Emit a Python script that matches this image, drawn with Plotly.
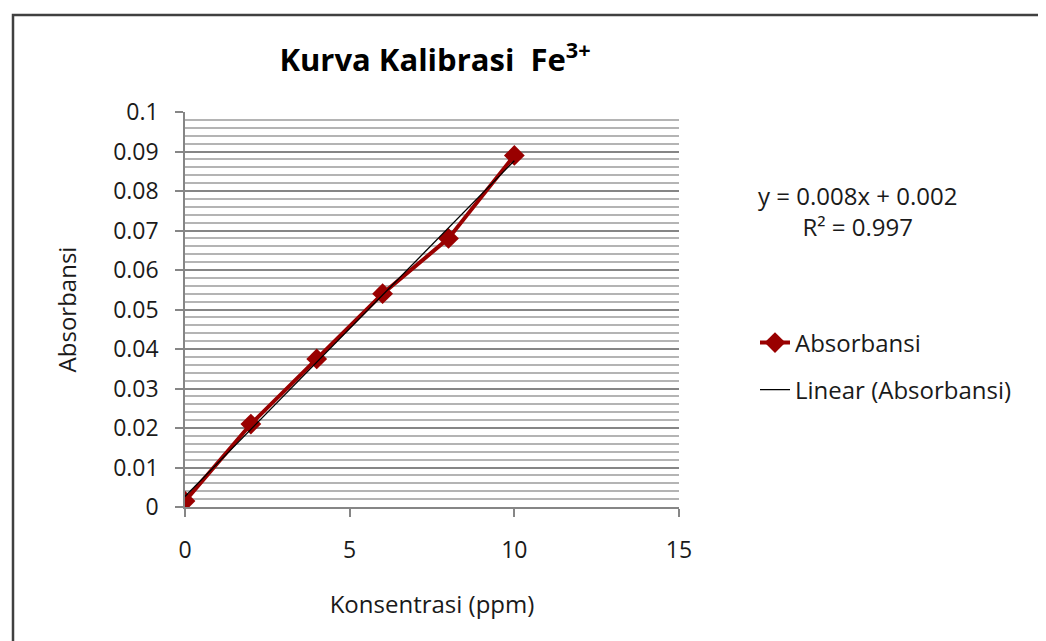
import numpy as np
import plotly.graph_objects as go

# Data
konsentrasi = [0, 2, 4, 6, 8, 10]
absorbansi = [0.0015, 0.021, 0.0375, 0.054, 0.068, 0.089]

title_text = "Kurva Kalibrasi  Fe<sup>3+</sup>"
x_title = "Konsentrasi (ppm)"
y_title = "Absorbansi"
equation_text = "y = 0.008x + 0.002<br>R² = 0.997"

# Linear trendline (least squares fit of the data)
slope, intercept = np.polyfit(konsentrasi, absorbansi, 1)
trend_x = [min(konsentrasi), max(konsentrasi)]
trend_y = [slope * v + intercept for v in trend_x]

FONT = "Open Sans"
OFF = 8  # page body margin
W, H = 1046 - OFF, 641 - OFF
# plot area in screen pixels
SX0, SX1, SY0, SY1 = 185, 679, 112, 507
L, R, T, B = SX0 - OFF, W - (SX1 - OFF), SY0 - OFF, H - (SY1 - OFF)
pw = SX1 - SX0
ph = SY1 - SY0


def px_x(p):
    return (p - SX0) / pw


def px_y(p):
    return (SY1 - p) / ph


fig = go.Figure()
fig.add_trace(go.Scatter(
    x=konsentrasi, y=absorbansi, mode="lines+markers", name="Absorbansi",
    line=dict(color="#990000", width=4),
    marker=dict(symbol="diamond", size=16, color="#990000"),
    legend="legend",
))
fig.add_trace(go.Scatter(
    x=trend_x, y=trend_y, mode="lines", name="Linear (Absorbansi)",
    line=dict(color="#000000", width=1.3),
    legend="legend2",
))

fig.update_layout(
    width=W, height=H,
    margin=dict(l=L, r=R, t=T, b=B, autoexpand=False),
    paper_bgcolor="white", plot_bgcolor="white",
    font=dict(family=FONT, size=23, color="#1a1a1a"),
    title=dict(text=title_text, x=(435 - OFF) / W, xanchor="center", xref="container",
               y=1 - (60 - OFF) / H, yanchor="middle", yref="container",
               font=dict(family=FONT, size=31, color="#000000", weight="bold")),
    legend=dict(x=px_x(755), y=px_y(343), xanchor="left", yanchor="middle",
                font=dict(size=24), bgcolor="rgba(0,0,0,0)"),
    legend2=dict(x=px_x(755), y=px_y(390), xanchor="left", yanchor="middle",
                 font=dict(size=24), bgcolor="rgba(0,0,0,0)"),
    showlegend=True,
)

fig.update_xaxes(
    range=[0, 15], dtick=5, tick0=0,
    showgrid=False, zeroline=False,
    showline=True, linecolor="#868686", linewidth=1.5,
    ticks="outside", ticklen=8, tickcolor="#868686", tickwidth=1.5,
    ticklabelstandoff=14,
    title=dict(text=x_title, standoff=32, font=dict(size=24)),
    tickfont=dict(size=23),
)
fig.update_yaxes(
    range=[0, 0.1], dtick=0.01, tick0=0,
    showgrid=True, gridcolor="#868686", gridwidth=1.5,
    minor=dict(dtick=0.002, showgrid=True, gridcolor="#b4b4b4", gridwidth=1.5, ticks=""),
    zeroline=False,
    showline=True, linecolor="#868686", linewidth=1.5,
    ticks="outside", ticklen=8, tickcolor="#868686", tickwidth=1.5,
    ticklabelstandoff=12,
    title=dict(text=y_title, standoff=30, font=dict(size=24)),
    tickfont=dict(size=23),
)

fig.add_annotation(
    text=equation_text, xref="paper", yref="paper",
    x=px_x(857), y=px_y(211), xanchor="center", yanchor="middle",
    showarrow=False, align="center", font=dict(size=24, color="#1a1a1a"),
)

# outer chart border
fig.add_shape(type="rect", xref="paper", yref="paper",
              x0=px_x(13), x1=px_x(1070), y0=px_y(670), y1=px_y(15),
              line=dict(color="#404040", width=2.5), fillcolor="rgba(0,0,0,0)", layer="below")

fig.write_html("out.html")
